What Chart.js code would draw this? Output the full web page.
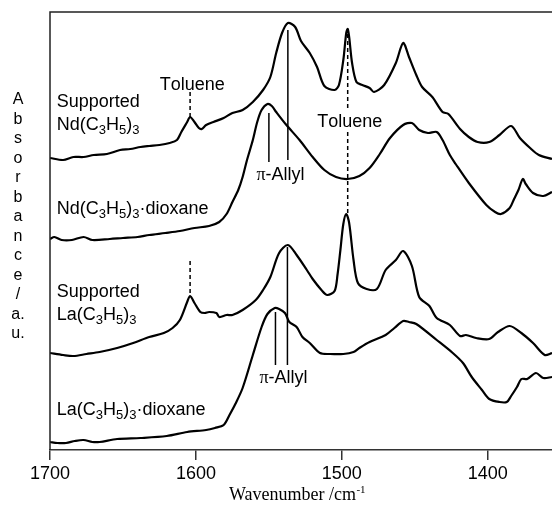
<!DOCTYPE html>
<html>
<head>
<meta charset="utf-8">
<script src="https://cdn.jsdelivr.net/npm/chart.js@4.4.1/dist/chart.umd.min.js"></script>
<style>
  html, body { margin: 0; padding: 0; background: #fff; }
  #wrap { width: 552px; height: 509px; }
</style>
</head>
<body>
<div id="wrap"><canvas id="spectra" width="552" height="509"></canvas></div>
<script>
// --- spectra (wavenumber / cm-1, absorbance in arbitrary offset units) ---
const ndSupWn  = [1700,1691,1684,1677,1670,1661,1652,1645,1638,1632,1625,1618,1613,1610,1606,1604,1601,1598,1596,1593,1588,1581,1575,1568,1561,1554,1549,1545,1541,1537,1532,1528,1522,1517,1512,1505,1502,1499,1497,1496,1495,1493,1490,1486,1481,1478,1471,1463,1458,1454,1449,1445,1438,1431,1427,1419,1413,1407,1399,1392,1384,1378,1371,1365,1356];
const ndSupAbs = [292,290,293,293,295,296,300,301,303,304,305,307,310,318,328,333,328,322,321,325,328,332,337,340,348,360,373,397,417,427,423,409,397,383,364,360,365,390,417,421,413,387,368,365,362,358,365,387,407,393,375,363,353,338,336,321,313,308,308,315,324,312,302,295,291];

const ndDioWn  = [1700,1697,1692,1685,1677,1671,1659,1650,1640,1632,1621,1611,1601,1591,1584,1579,1575,1571,1568,1565,1561,1558,1555,1551,1548,1545,1538,1529,1520,1512,1504,1496,1488,1481,1474,1467,1458,1452,1447,1441,1435,1431,1426,1422,1413,1401,1395,1391,1385,1382,1379,1376,1374,1369,1362,1356];
const ndDioAbs = [211,213,210,210,213,210,211,212,213,215,217,219,222,224,228,236,248,260,273,290,310,328,340,346,344,338,325,310,293,280,273,271,274,282,296,312,325,327,320,317,318,310,295,286,267,245,238,236,242,251,260,271,266,257,254,258];

const laSupWn  = [1700,1691,1684,1675,1666,1654,1643,1632,1622,1616,1611,1606,1604,1601,1597,1594,1591,1586,1584,1579,1575,1568,1559,1554,1549,1543,1537,1531,1524,1520,1514,1510,1505,1503,1501,1499,1497,1495,1492,1489,1483,1476,1470,1463,1458,1452,1447,1440,1435,1426,1419,1415,1408,1399,1393,1385,1377,1369,1361,1356];
const laSupAbs = [97,95,94,96,98,102,107,113,117,122,130,148,154,147,138,137,138,137,133,135,135,140,150,160,173,197,205,195,180,171,160,155,159,175,200,226,236,227,190,167,161,161,180,190,199,184,153,144,132,125,114,115,112,111,118,124,117,107,95,97];

const laDioWn  = [1700,1695,1689,1683,1677,1671,1666,1654,1638,1620,1606,1593,1587,1581,1577,1573,1568,1561,1555,1551,1546,1543,1539,1536,1531,1527,1522,1515,1508,1499,1492,1488,1481,1470,1464,1458,1454,1449,1435,1424,1417,1411,1404,1399,1392,1387,1384,1380,1377,1373,1367,1362,1356];
const laDioAbs = [8,7,7,9,10,8,8,11,12,14,18,20,22,25,35,46,62,95,123,136,142,141,137,128,123,113,107,97,96,96,98,102,108,115,122,129,128,126,110,97,87,73,60,51,48,48,54,63,71,71,77,72,73];

const tickWn = [1700, 1600, 1500, 1400];

// marker lines: [wavenumber, from, to]
const tolueneMarks = [[1604, 333, 358], [1496, 342, 417], [1496, 237, 318], [1604, 157, 192]];
const allylMarks   = [[1537, 290, 420], [1550, 288, 337], [1545.5, 85, 138], [1537.3, 85, 203]];

// annotation texts, anchored at (wavenumber, absorbance) baseline centre
const noteText = ["Toluene", "Toluene", "π-Allyl", "π-Allyl"];
const noteWn   = [1602.5, 1494.6, 1542, 1540];
const noteAbs  = [360, 323, 270, 67];

// curve names, left aligned; "_n" = subscript
const curveText = ["Supported", "Nd(C_3H_5)_3", "Nd(C_3H_5)_3·dioxane", "Supported", "La(C_3H_5)_3", "La(C_3H_5)_3·dioxane"];
const curveAbs  = [343, 320, 236, 153, 130, 35];
const curveWn   = 1695.4;

const yTitle = ["A","b","s","o","r","b","a","n","c","e","/","a.","u."];

const SANS = '"Liberation Sans", Arial, Helvetica, sans-serif';
const SERIF = '"Liberation Serif", "Times New Roman", serif';

function pts(wn, abs) { return wn.map((w, i) => ({ x: w, y: abs[i] })); }

// split a label into drawable pieces
function pieces(str, size) {
    const out = [];
    for (let i = 0; i < str.length; i++) {
        let ch = str[i], sub = false;
        if (ch === "_") { ch = str[++i]; sub = true; }
        let font = `${size}px ${SANS}`;
        if (sub) font = `${Math.round(size * 0.72)}px ${SANS}`;
        if (ch === "π") font = `${size}px ${SERIF}`;
        out.push({ ch, font, dy: sub ? 4 : 0 });
    }
    return out;
}

function drawRich(ctx, str, x, y, size, align) {
    const ps = pieces(str, size);
    let w = 0;
    ps.forEach(p => { ctx.font = p.font; p.w = ctx.measureText(p.ch).width; w += p.w; });
    let cx = align === "center" ? x - w / 2 : x;
    ctx.textAlign = "left";
    ctx.textBaseline = "alphabetic";
    ps.forEach(p => { ctx.font = p.font; ctx.fillText(p.ch, cx, y + p.dy); cx += p.w; });
}

const decor = {
    id: "decor",
    afterDatasetsDraw(chart) {
        const { ctx, chartArea: a, scales: { x, y } } = chart;
        ctx.save();
        // left + top frame
        ctx.strokeStyle = "#222";
        ctx.lineWidth = 1.5;
        ctx.beginPath();
        ctx.moveTo(a.left, a.bottom);
        ctx.lineTo(a.left, a.top);
        ctx.lineTo(a.right, a.top);
        ctx.stroke();

        ctx.strokeStyle = "#000";
        ctx.lineWidth = 1.5;
        ctx.setLineDash([4, 3]);
        tolueneMarks.forEach(([w, v1, v2]) => {
            const px = x.getPixelForValue(w);
            ctx.beginPath();
            ctx.moveTo(px, y.getPixelForValue(v1));
            ctx.lineTo(px, y.getPixelForValue(v2));
            ctx.stroke();
        });
        ctx.setLineDash([]);
        allylMarks.forEach(([w, v1, v2]) => {
            const px = x.getPixelForValue(w);
            ctx.beginPath();
            ctx.moveTo(px, y.getPixelForValue(v1));
            ctx.lineTo(px, y.getPixelForValue(v2));
            ctx.stroke();
        });

        ctx.fillStyle = "#000";
        noteText.forEach((t, i) => {
            drawRich(ctx, t, x.getPixelForValue(noteWn[i]), y.getPixelForValue(noteAbs[i]), 18, "center");
        });
        curveText.forEach((t, i) => {
            drawRich(ctx, t, x.getPixelForValue(curveWn), y.getPixelForValue(curveAbs[i]), 18, "left");
        });

        // stacked y title
        ctx.font = `16px ${SANS}`;
        ctx.textAlign = "center";
        ctx.textBaseline = "alphabetic";
        yTitle.forEach((c, i) => ctx.fillText(c, 18, 104 + i * 19.5));

        // x title with superscript
        ctx.font = `18px ${SERIF}`;
        const main = "Wavenumber /cm";
        const mw = ctx.measureText(main).width;
        ctx.font = `11px ${SERIF}`;
        const sw = ctx.measureText("-1").width;
        const sx = (a.left + a.right) / 2 - 4 - (mw + sw) / 2;
        ctx.textAlign = "left";
        ctx.font = `18px ${SERIF}`;
        ctx.fillText(main, sx, a.bottom + 50);
        ctx.font = `11px ${SERIF}`;
        ctx.fillText("-1", sx + mw + 0.5, a.bottom + 43);
        ctx.restore();
    }
};

const line = (wn, abs) => ({
    data: pts(wn, abs),
    borderColor: "#000",
    borderWidth: 2.2,
    pointRadius: 0,
    fill: false,
    tension: 0.3
});

new Chart(document.getElementById("spectra"), {
    type: "line",
    data: {
        datasets: [
            line(ndSupWn, ndSupAbs),
            line(ndDioWn, ndDioAbs),
            line(laSupWn, laSupAbs),
            line(laDioWn, laDioAbs)
        ]
    },
    options: {
        responsive: false,
        animation: false,
        layout: { padding: { left: 50, top: 12, right: 0, bottom: 0 } },
        plugins: { legend: { display: false }, tooltip: { enabled: false } },
        scales: {
            x: {
                type: "linear",
                reverse: true,
                min: 1356,
                max: 1700,
                afterBuildTicks: s => { s.ticks = tickWn.map(v => ({ value: v })); },
                afterFit: s => { s.height = 59; },
                ticks: {
                    color: "#000",
                    font: { family: SANS, size: 18 },
                    padding: 3,
                    maxRotation: 0,
                    autoSkip: false,
                    callback: v => String(v)
                },
                grid: { display: true, drawOnChartArea: false, drawTicks: true, tickLength: 10, color: "#333", lineWidth: 1.5 },
                border: { display: true, color: "#333", width: 1.5 }
            },
            y: { display: false, min: 0, max: 438 }
        }
    },
    plugins: [decor]
});
</script>
</body>
</html>
